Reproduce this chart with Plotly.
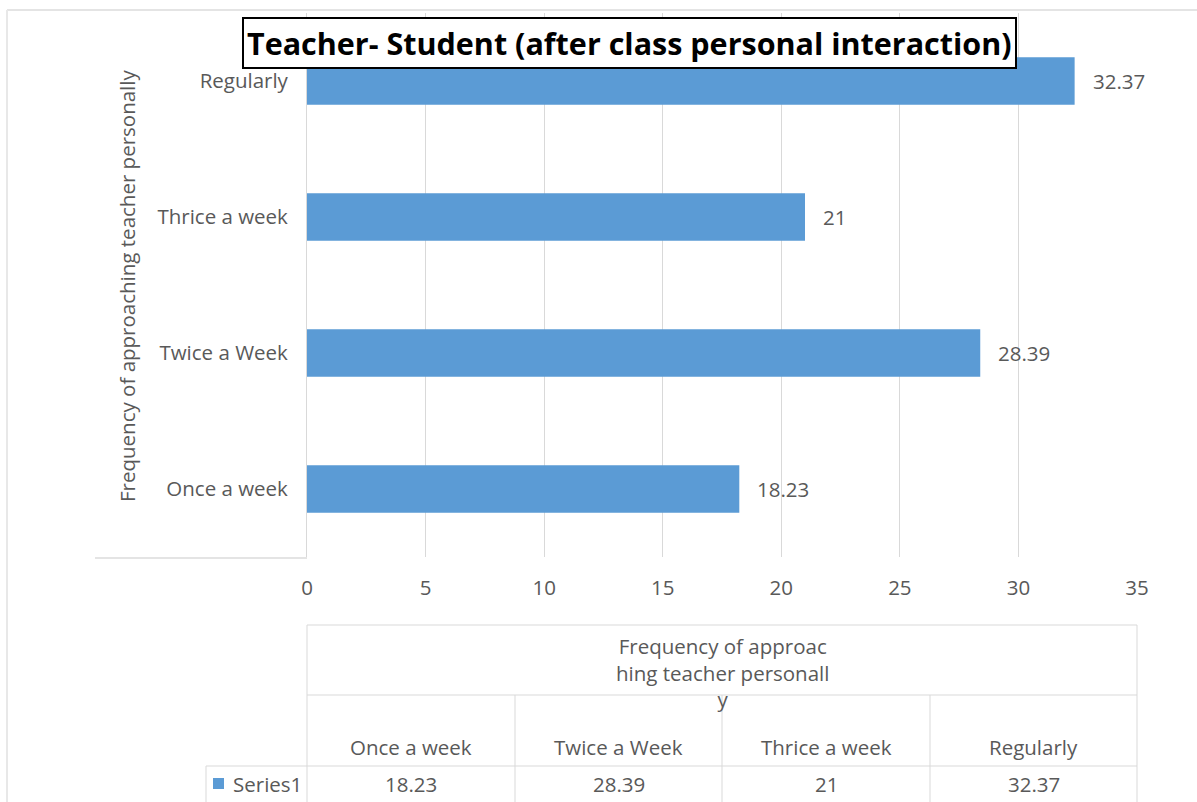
import plotly.graph_objects as go

categories = ["Once a week", "Twice a Week", "Thrice a week", "Regularly"]
values = [18.23, 28.39, 21, 32.37]
series_name = "Series1"
title_text = "Teacher- Student (after class personal interaction)"
axis_title = "Frequency of approaching teacher personally"
table_header = "Frequency of approac<br>hing teacher personall<br>y"
x_ticks = [0, 5, 10, 15, 20, 25, 30, 35]

W, H = 1197, 802
L, R, T, B = 307, 1137, 13, 557
BLUE = "#5B9BD5"
GRAY = "#595959"
GRID = "#D9D9D9"
FONT = "Open Sans"
FS = 20.5


def px(x):
    return (x - L) / (R - L)


def py(y):
    return (B - y) / (B - T)


def fmt(v):
    return f"{v:g}"


def txt(x, y, text, size=FS, color=GRAY, xanchor="center", **kw):
    return dict(x=px(x), y=py(y), xref="paper", yref="paper", text=text, showarrow=False,
                xanchor=xanchor, yanchor="middle", font=dict(family=FONT, size=size, color=color), **kw)


fig = go.Figure()
fig.add_trace(go.Bar(
    y=categories, x=values, orientation="h", name=series_name,
    marker=dict(color=BLUE, line=dict(width=0)), width=0.35,
    showlegend=False, hoverinfo="x+y",
))

annotations = []
# data labels
for c, v in zip(categories, values):
    annotations.append(dict(x=v, y=c, xref="x", yref="y", text=fmt(v), showarrow=False,
                            xanchor="left", yanchor="middle", xshift=16,
                            font=dict(family=FONT, size=FS, color=GRAY)))

# title
annotations.append(txt(629, 43, "<b>" + title_text + "</b>", size=30.5, color="black",
                       bordercolor="black", borderwidth=2, borderpad=3, bgcolor="white"))
# y axis title
annotations.append(txt(127, 286, axis_title, textangle=-90))

# data table
col_edges = [307, 515, 722, 930, 1137]
annotations.append(txt(722, 672, table_header, align="center"))
for i, (c, v) in enumerate(zip(categories, values)):
    cx = (col_edges[i] + col_edges[i + 1]) / 2
    annotations.append(txt(cx, 747, c))
    annotations.append(txt(cx, 784, fmt(v)))
annotations.append(txt(231, 784, series_name, xanchor="left"))

shapes = []


def line(x0, y0, x1, y1, color=GRID, w=1):
    shapes.append(dict(type="line", xref="paper", yref="paper", x0=px(x0), y0=py(y0), x1=px(x1), y1=py(y1),
                       line=dict(color=color, width=w), layer="above"))


line(307, 625, 1137, 625)
line(307, 695, 1137, 695)
line(206, 766, 1137, 766)
line(307, 625, 307, 802)
line(1137, 625, 1137, 802)
for x in col_edges[1:-1]:
    line(x, 695, x, 802)
line(206, 766, 206, 802)
# legend key square
shapes.append(dict(type="rect", xref="paper", yref="paper", x0=px(213), x1=px(224), y0=py(778), y1=py(789),
                   fillcolor=BLUE, line=dict(width=0)))
# faint frame
line(7, 10, 1197, 10, color="#E4E4E4", w=2)
line(7, 10, 7, 802, color="#E8E8E8", w=2)
line(95, 558, 307, 558, color="#E4E4E4", w=2)

fig.update_layout(
    width=W, height=H,
    margin=dict(l=L, r=W - R, t=T, b=H - B, pad=0),
    paper_bgcolor="white", plot_bgcolor="white",
    xaxis=dict(range=[0, 35], tickvals=x_ticks, showgrid=True, gridcolor=GRID, gridwidth=1,
               zeroline=False, showline=False, ticks="", ticklabelstandoff=16,
               tickfont=dict(family=FONT, size=FS, color=GRAY)),
    yaxis=dict(categoryorder="array", categoryarray=categories, range=[-0.5, 3.5],
               showgrid=False, zeroline=False, showline=True, linecolor=GRID, linewidth=1,
               ticks="", ticklabelstandoff=14, tickfont=dict(family=FONT, size=FS, color=GRAY)),
    annotations=annotations, shapes=shapes,
    showlegend=False,
)

fig.write_html("out.html", config={"displayModeBar": False},
               post_script="document.body.style.margin='0px';document.body.style.overflow='hidden';")
